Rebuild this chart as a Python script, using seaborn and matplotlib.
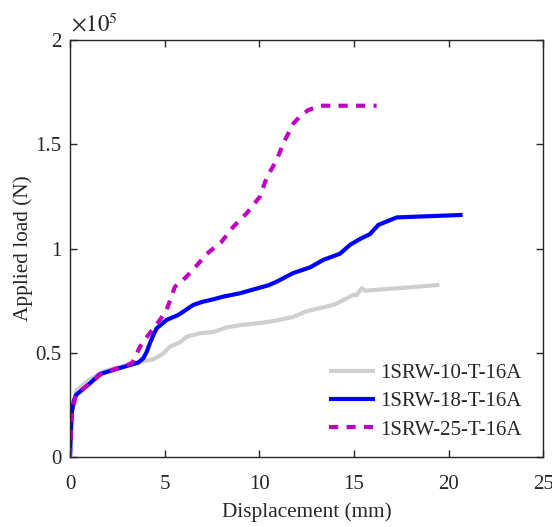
import matplotlib
matplotlib.use("Agg")
import matplotlib.pyplot as plt
import seaborn as sns
import pandas as pd
import numpy as np

# ---- data (displacement in mm, load in kN -> converted to N) ----
labels = ["1SRW-10-T-16A", "1SRW-18-T-16A", "1SRW-25-T-16A"]

x10 = [0, 0.02, 0.1, 0.35, 1.0, 1.76, 2.5, 3.2, 3.7, 4.4, 4.9, 5.28, 5.8, 6.16, 6.86,
       7.57, 8.27, 9.0, 10.03, 10.9, 11.8, 12.5, 13.2, 13.9, 14.26, 14.96, 15.14, 15.4,
       15.58, 16.5, 17.78, 19.5]
y10 = [0, 10, 22, 32, 37, 41, 43, 44.5, 45.7, 46.9, 49.5, 53, 55, 57.7, 59.4,
       60, 62.2, 63.3, 64.3, 65.5, 67.3, 70, 71.5, 73, 74.5, 77.8, 77.8, 81,
       79.8, 80.5, 81.3, 82.6]

x18 = [0, 0.03, 0.09, 0.2, 0.32, 1.06, 1.58, 2.29, 3.0, 3.6, 3.87, 4.05, 4.22, 4.4,
       4.58, 5.1, 5.72, 6.51, 7.0, 7.57, 8.1, 8.98, 10.03, 10.5, 10.9, 11.09, 11.79,
       12.67, 13.37, 14.26, 14.78, 15.3, 15.84, 16.28, 17.25, 20.73]
y18 = [0, 8, 21, 27, 29.8, 35.4, 39.8, 41.8, 43.7, 45.3, 47.4, 50.5, 54.6, 58.5,
       61.8, 65.8, 68.2, 73, 74.5, 75.7, 77, 78.6, 81.3, 82.5, 84.1, 85, 88.3,
       91, 94.6, 97.6, 101.8, 104.6, 107, 111.4, 115, 116.2]

x25 = [0, 0.03, 0.09, 0.32, 1.0, 1.6, 2.3, 3.0, 3.3, 3.7, 4.14, 4.75, 5.1, 5.54,
       5.98, 6.51, 7.22, 8.0, 8.62, 9.33, 10.03, 10.38, 10.91, 11.26, 11.79, 12.2,
       12.58, 13.2, 16.19]
y25 = [0, 8, 21, 30, 35, 39.5, 42, 44, 45.3, 53, 58.6, 65.8, 70.6, 81.7,
       85, 90, 97.5, 103.3, 110.5, 117, 125, 134, 142.5, 150.5, 160, 164,
       166.5, 168.6, 168.6]

xticks = [0, 5, 10, 15, 20, 25]
yticks = [0, 0.5e5, 1.0e5, 1.5e5, 2.0e5]
ytick_labels = ["0", "0.5", "1", "1.5", "2"]

colors = ["#CFCFCF", "#0000FF", "#C000C0"]
styles = ["-", "-", "--"]

sns.set_style("ticks")
plt.rcParams["font.family"] = ["Liberation Serif", "DejaVu Serif"]
plt.rcParams["mathtext.fontset"] = "stix"

fig = plt.figure(figsize=(5.52, 5.27), dpi=100)
ax = fig.add_axes([0.1268, 0.1328, 0.8578, 0.7907])

series = [(x10, y10), (x18, y18), (x25, y25)]
for (xs, ys), lab, c, ls in zip(series, labels, colors, styles):
    df = pd.DataFrame({"Displacement": xs, "Load": np.array(ys) * 1000.0})
    sns.lineplot(data=df, x="Displacement", y="Load", color=c, linewidth=3.0,
                 label=lab, sort=False, estimator=None, ax=ax)
    ln = ax.get_lines()[-1]
    ln.set_linestyle(ls)
    if ls == "--":
        ln.set_dashes((2.2, 2.0))
    ln.set_solid_capstyle("butt")

ax.set_xlim(0, 25)
ax.set_ylim(0, 2e5)
ax.set_xticks(xticks)
ax.set_xticklabels([str(t) for t in xticks])
ax.set_yticks(yticks)
ax.set_yticklabels(ytick_labels)

for s in ax.spines.values():
    s.set_visible(True)
    s.set_linewidth(1.0)
    s.set_color("#262626")
ax.tick_params(direction="in", length=5, width=1.0, color="#262626",
               top=True, right=True, labelsize=15, labelcolor="#262626")
ax.tick_params(axis="x", pad=13)
ax.tick_params(axis="y", pad=6)

ax.set_xlabel("Displacement (mm)", fontsize=15.3, color="#262626", labelpad=6)
ax.set_ylabel("Applied load (N)", fontsize=15.3, color="#262626", labelpad=1.5)

ax.text(0.003, 1.008, r"$\times10^{5}$", transform=ax.transAxes, fontsize=16.5,
        color="#262626", ha="left", va="bottom")

leg = ax.legend(loc="lower right", bbox_to_anchor=(0.985, 0.007), frameon=False,
                fontsize=15, handlelength=2.2, handletextpad=0.25,
                labelspacing=0.42, borderaxespad=0.3)
for t in leg.get_texts():
    t.set_color("#262626")

fig.savefig("out.png", dpi=100)
